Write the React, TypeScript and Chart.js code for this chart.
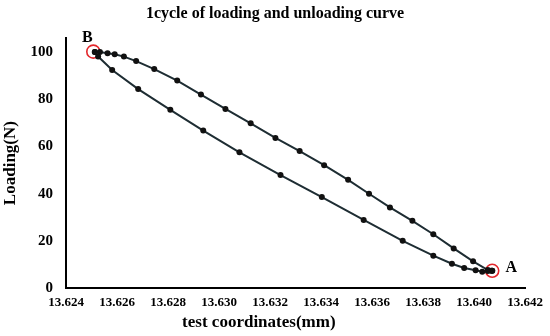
import React, { useEffect, useRef } from "react";
import { Chart, registerables } from "chart.js";

Chart.register(...registerables);

const chartTitle = "1cycle of loading and unloading curve";
const xAxisTitle = "test coordinates(mm)";
const yAxisTitle = "Loading(N)";

// loading branch: A -> B (lower curve)
const loadingX = [13.64071, 13.64067, 13.64054, 13.64032, 13.64006, 13.63961, 13.63913, 13.6384, 13.6372, 13.63567, 13.63403, 13.63241, 13.6308, 13.62938, 13.62809, 13.62683, 13.62581, 13.62526, 13.62513];
const loadingY = [7.3, 7.3, 7.2, 6.9, 7.5, 8.5, 10.3, 13.7, 20.0, 28.9, 38.6, 47.9, 57.6, 66.8, 75.6, 84.4, 92.5, 98.2, 100.1];

// unloading branch: B -> A (upper curve)
const unloadingX = [13.62513, 13.62533, 13.62563, 13.62591, 13.62627, 13.62675, 13.62746, 13.62836, 13.62929, 13.63025, 13.63124, 13.63221, 13.63316, 13.63412, 13.63506, 13.63588, 13.6367, 13.63758, 13.6384, 13.6392, 13.63996, 13.64054, 13.64071];
const unloadingY = [100.1, 100.1, 99.6, 99.2, 98.2, 96.3, 92.9, 88.0, 82.1, 76.0, 69.9, 63.7, 58.1, 52.1, 45.9, 40.0, 34.2, 28.5, 22.8, 16.8, 11.3, 7.6, 7.3];

// marked points A and B
const markerLabels = ["A", "B"];
const markerX = [13.64071, 13.62507];
const markerY = [7.3, 100.3];

const xMin = 13.624;
const xMax = 13.642;
const xStep = 0.002;
const yMin = 0;
const yMax = 106;
const yStep = 20;

const FONT = "'Liberation Serif', 'Times New Roman', serif";
const LINE_COLOR = "#1e2d33";

const zip = (xs: number[], ys: number[]) => xs.map((x, i) => ({ x, y: ys[i] }));

const annotatePlugin = {
  id: "annotate",
  afterDatasetsDraw(chart: any) {
    const ctx = chart.ctx;
    const meta = chart.getDatasetMeta(2);
    ctx.save();
    ctx.fillStyle = "#000";
    ctx.font = `bold 16px ${FONT}`;
    ctx.textAlign = "center";
    ctx.textBaseline = "middle";
    meta.data.forEach((pt: any, i: number) => {
      const label = markerLabels[i];
      if (label === "A") ctx.fillText(label, pt.x + 19, pt.y - 3);
      else ctx.fillText(label, pt.x - 6, pt.y - 14);
    });
    // x axis title
    const area = chart.chartArea;
    ctx.font = `bold 17px ${FONT}`;
    ctx.fillText(xAxisTitle, area.left + 0.42 * (area.right - area.left), 323);
    ctx.restore();
  },
};

export default function App() {
  const ref = useRef<HTMLCanvasElement | null>(null);

  useEffect(() => {
    if (!ref.current) return;
    const lineStyle = {
      showLine: true,
      borderColor: LINE_COLOR,
      borderWidth: 2,
      pointRadius: 3,
      pointBackgroundColor: "#111",
      pointBorderColor: "#111",
      pointBorderWidth: 0,
    };
    const chart = new Chart(ref.current, {
      type: "scatter",
      data: {
        datasets: [
          { label: "loading", data: zip(loadingX, loadingY), ...lineStyle },
          { label: "unloading", data: zip(unloadingX, unloadingY), ...lineStyle },
          {
            label: "markers",
            data: zip(markerX, markerY),
            showLine: false,
            pointRadius: 6.5,
            pointBackgroundColor: "rgba(0,0,0,0)",
            pointBorderColor: "#e3262b",
            pointBorderWidth: 1.6,
          },
        ],
      },
      options: {
        animation: false,
        responsive: false,
        layout: { padding: { left: 0, right: 0, top: 0, bottom: 0 } },
        plugins: {
          legend: { display: false },
          tooltip: { enabled: false },
          title: {
            display: true,
            text: chartTitle,
            color: "#000",
            font: { family: FONT, size: 16, weight: "bold" },
            padding: { top: 4, bottom: 15 },
          },
        },
        scales: {
          x: {
            type: "linear",
            min: xMin,
            max: xMax,
            grid: { display: false, drawTicks: false },
            border: { display: true, color: "#000", width: 2 },
            ticks: {
              stepSize: xStep,
              autoSkip: false,
              maxRotation: 0,
              color: "#000",
              padding: 7,
              font: { family: FONT, size: 13, weight: "bold" },
              callback: (v: any) => Number(v).toFixed(3),
            },
            afterFit: (s: any) => {
              s.height = 48;
            },
          },
          y: {
            type: "linear",
            min: yMin,
            max: yMax,
            grid: { display: false, drawTicks: false },
            border: { display: true, color: "#000", width: 2 },
            ticks: {
              stepSize: yStep,
              includeBounds: false,
              color: "#000",
              padding: 13,
              font: { family: FONT, size: 15, weight: "bold" },
              callback: (v: any) => (Number(v) % yStep === 0 ? String(v) : ""),
            },
            title: {
              display: true,
              text: yAxisTitle,
              color: "#000",
              font: { family: FONT, size: 17, weight: "bold" },
              padding: 0,
            },
            afterFit: (s: any) => {
              s.width = 66;
            },
          },
        },
      },
      plugins: [annotatePlugin],
    });
    return () => chart.destroy();
  }, []);

  return (
    <div style={{ position: "absolute", left: 0, top: 0, width: 550, height: 336, background: "#fff" }}>
      <canvas ref={ref} width={550} height={336} />
    </div>
  );
}
